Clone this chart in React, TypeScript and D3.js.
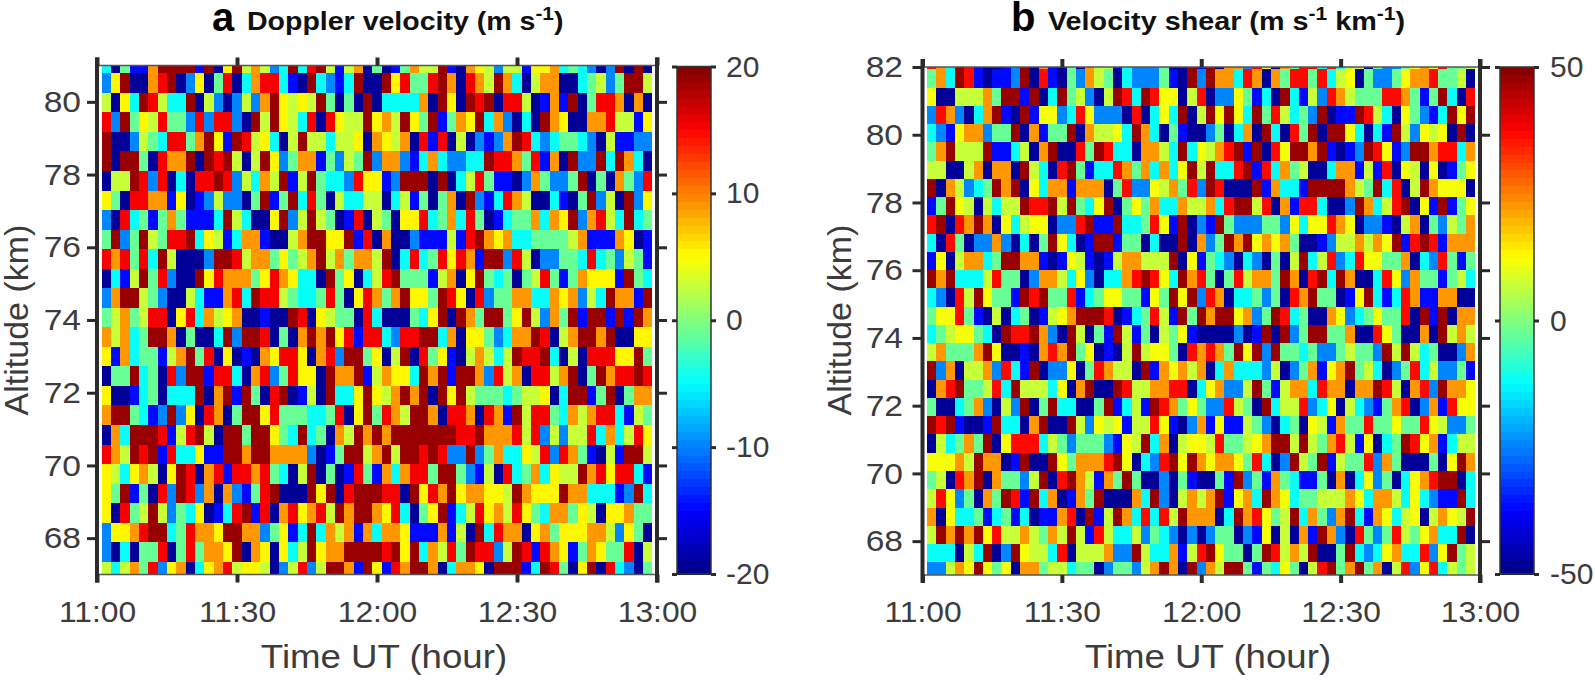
import React, { useEffect, useRef } from 'react';
import * as d3 from 'd3';

const width = 1595;
const height = 680;

// colour classes, 0 = navy ... 9 = maroon. top row first, one digit per 2 min
const velocityClassValues = [-19, -15, -10, -5, -1, 3, 5, 9, 15, 19];
const shearClassValues = [-47, -37, -25, -12, -2, 7, 12, 22, 37, 47];

const velocityRows = [
  '30411799991906957523938951570401475591076525516673432029090',
  '26900789026048037883109321390096844897087597305770034524995',
  '50639853390520252796565940409033337096098908850171904887070',
  '82946584428288209596538086559675964914769372030976007785516',
  '90025438847961985630595535560765708180502127983234432051122',
  '90994087790989505962477142549277213732233988748170922939730',
  '05598280308898253759159433286612999090358411027422490407428',
  '64088771601252204914938405335503514047092138750031049250926',
  '20834147411139530069259540180540668347384013447376927853934',
  '49249548893651377100579966918070021115189767334444571117601',
  '87848395000299857746457957477590383486871992850224438342541',
  '03159482009687774687633094603589444157069434045841476661943',
  '27995420053117839885433484068747966498608244773376725397719',
  '45745880683756700100980654408300043690974994695274919919197',
  '75734997040039299804079796818832889937066423779805799790066',
  '61734415794806010768860782994605908461057535988930508886694',
  '04493408299188307824866097791576639791997285708857904978898',
  '60013403339079194089015093369657979096954443455603991490477',
  '79943129260870499684443348069487599708870871958843757883154',
  '07399981589509949964393407597979999999889777858252558373586',
  '87598918336119979977772014995795998982292473365828741051995',
  '65367506980781887843059040184173788499421508347365597868831',
  '64914082982707214890009690899988096879677665976669773331293',
  '60845952436013891807867859799768304691358675864377465066744',
  '26678993487769977246139375717377611171509387706746667752640',
  '20304480484776907606359677999989693758498825981876147644805',
  '53574826703678566502582599719618799703776099913984069083204',
];

const shearRows = [
  '87398100129071040755132224009190772860748838355042246768445',
  '47398101129081042754032224109297738707488483560422467784450',
  '60055574991903945205983986605802264130931528754448874149308',
  '28720379109166238622208036390596963948534290119853064213969',
  '32167724490714490755639730410024037093084909963031952656090',
  '47955591135079008498330775393657891908699791012986129978837',
  '55005707709530894133874737369593389183745003771518065060146',
  '90752349790637717770482265748298000917331999975493805976660',
  '14965053559889594369046473375573899580718830029735890619146',
  '89087970635660228911933486190219422244263668760221057042547',
  '30840227203049630199144030090724979676740012557576918981777',
  '16057734997710165101577555906143203204059358238664470328414',
  '97933358440277536203378986397840485774970893970038627441453',
  '32085964419894481346644164969287033424087944016931387117700',
  '46684105034015679998013485194979967249834007623464480919077',
  '34566430988972095041951405461000020190924994470086400709575',
  '57444796001078794601059566408787496929443422454429595340027',
  '92705572831902260487550917675703733325024716794530248352241',
  '07894458395553607900985577880367225941577387707798507829776',
  '40034720529049330049135198746422854093558236053214780271866',
  '98910019330790095265615586102716115420340651744844644865224',
  '05347490688835424442165937056658445679959547851603498671355',
  '66675977019009647778960328969767764830295491544827400040697',
  '45087907442590897517494002041004192417431140703624036789903',
  '58624074981937017490007392057579167397634455576377536321193',
  '70633413413011780915973838597770397864593742793176356057659',
  '59797968557547595185335243202024402160507197208424854673390',
  '33305390296553805557229533715896440498575900493236733826945',
  '22576964607745534402442579709275994143640589479470582683545',
];

const xTickMinutes = [0, 30, 60, 90, 120];
const xTickLabels = ['11:00', '11:30', '12:00', '12:30', '13:00'];
const velocityAltTicks = [68, 70, 72, 74, 76, 78, 80];
const shearAltTicks = [68, 70, 72, 74, 76, 78, 80, 82];
const velocityBarTicks = [-20, -10, 0, 10, 20];
const shearBarTicks = [-50, 0, 50];

const ink = '#3c3c3c';
const fontFamily = '"Liberation Sans", Arial, sans-serif';
const jet = d3
  .scaleLinear<string>()
  .domain([0, 0.125, 0.375, 0.625, 0.875, 1])
  .range(['#000080', '#0000ff', '#00ffff', '#ffff00', '#ff0000', '#800000']);

type PanelCfg = {
  id: string;
  rows: string[];
  classValues: number[];
  limit: number;
  altDomain: [number, number];
  altRange: [number, number];
  timeRange: [number, number];
  altTicks: number[];
  barTicks: number[];
  barX: number;
  barRange: [number, number];
  barLabelX: number;
  firstEdge: number;
  rowStep: number;
  tickLabelX: number;
  yLabelX: number;
  xLabelX: number;
};

const panels: PanelCfg[] = [
  {
    id: 'a',
    rows: velocityRows,
    classValues: velocityClassValues,
    limit: 20,
    altDomain: [67, 81],
    altRange: [574.5, 65.5],
    timeRange: [97, 657],
    altTicks: velocityAltTicks,
    barTicks: velocityBarTicks,
    barX: 677,
    barRange: [574, 66.5],
    barLabelX: 726,
    firstEdge: 67.35,
    rowStep: 0.5374,
    tickLabelX: 81,
    yLabelX: 28,
    xLabelX: 384,
  },
  {
    id: 'b',
    rows: shearRows,
    classValues: shearClassValues,
    limit: 50,
    altDomain: [67, 82],
    altRange: [575, 67],
    timeRange: [922.5, 1480],
    altTicks: shearAltTicks,
    barTicks: shearBarTicks,
    barX: 1500,
    barRange: [574, 67],
    barLabelX: 1550,
    firstEdge: 67.375,
    rowStep: 0.5391,
    tickLabelX: 903,
    yLabelX: 851,
    xLabelX: 1208,
  },
];

const plainNumber = (d: d3.NumberValue) => String(+d);

function styleAxis(g: d3.Selection<SVGGElement, unknown, null, undefined>, w: number) {
  g.select('.domain').remove();
  g.selectAll('line').attr('stroke', '#2b2b2b').attr('stroke-width', w);
  g.selectAll('text').attr('fill', ink).attr('font-size', 30);
}

// the reference text is a little wider than Liberation Sans at the same height
function stretch(sel: d3.Selection<any, any, any, any>, k: number) {
  sel.each(function (this: SVGTextElement) {
    const w = this.getComputedTextLength();
    d3.select(this).attr('textLength', w * k).attr('lengthAdjust', 'spacingAndGlyphs');
  });
}

function drawPanel(svg: d3.Selection<SVGSVGElement, unknown, null, undefined>, p: PanelCfg) {
  const x = d3.scaleLinear().domain([0, 120]).range(p.timeRange);
  const y = d3.scaleLinear().domain(p.altDomain).range(p.altRange);
  const [left, right] = p.timeRange;
  const top = p.altRange[1];
  const bottom = p.altRange[0];
  const g = svg.append('g').attr('font-family', fontFamily);

  svg
    .append('clipPath')
    .attr('id', `clip-${p.id}`)
    .append('rect')
    .attr('x', left)
    .attr('y', top)
    .attr('width', right - left)
    .attr('height', bottom - top);

  // cells: columns are 2 min wide, centred on the even minutes
  const cells = p.rows.flatMap((row, r) =>
    row.split('').map((c, i) => ({
      minute: (i + 1) * 2,
      rowFromBottom: p.rows.length - 1 - r,
      value: p.classValues[+c],
    })),
  );
  const color = (v: number) => {
    const t = (v + p.limit) / (2 * p.limit);
    return jet((Math.min(63, Math.floor(t * 64)) + 0.5) / 64);
  };
  g.append('g')
    .attr('clip-path', `url(#clip-${p.id})`)
    .attr('shape-rendering', 'crispEdges')
    .selectAll('rect')
    .data(cells)
    .enter()
    .append('rect')
    .attr('x', d => x(d.minute - 1))
    .attr('width', d => x(d.minute + 1) - x(d.minute - 1))
    .attr('y', d => y(p.firstEdge + d.rowFromBottom * p.rowStep))
    .attr('height', d => y(p.firstEdge + (d.rowFromBottom - 1) * p.rowStep) - y(p.firstEdge + d.rowFromBottom * p.rowStep))
    .attr('fill', d => color(d.value));

  // frame
  [top, bottom].forEach(v => {
    g.append('line')
      .attr('x1', left)
      .attr('x2', right)
      .attr('y1', v)
      .attr('y2', v)
      .attr('stroke', '#555')
      .attr('stroke-width', 1.5);
  });
  [left, right].forEach(v => {
    g.append('line')
      .attr('x1', v)
      .attr('x2', v)
      .attr('y1', top - 8)
      .attr('y2', bottom + 8)
      .attr('stroke', '#2b2b2b')
      .attr('stroke-width', 4);
  });

  // axes
  const xLabel = (d: d3.NumberValue) => xTickLabels[xTickMinutes.indexOf(+d)];
  const bottomAxis = g.append('g').attr('transform', `translate(0,${bottom})`);
  bottomAxis.call(d3.axisBottom(x).tickValues(xTickMinutes).tickFormat(xLabel).tickSize(8).tickPadding(18));
  styleAxis(bottomAxis, 4);
  stretch(bottomAxis.selectAll('text'), 1.06);
  const topAxis = g.append('g').attr('transform', `translate(0,${top})`);
  topAxis.call(d3.axisTop(x).tickValues(xTickMinutes).tickFormat(() => '').tickSize(8));
  styleAxis(topAxis, 4);
  const leftAxis = g.append('g').attr('transform', `translate(${left},0)`);
  leftAxis.call(d3.axisLeft(y).tickValues(p.altTicks).tickFormat(plainNumber).tickSize(10).tickPadding(6));
  styleAxis(leftAxis, 3);
  leftAxis.selectAll('text').attr('x', p.tickLabelX - left);
  stretch(leftAxis.selectAll('text'), 1.12);
  const rightAxis = g.append('g').attr('transform', `translate(${right},0)`);
  rightAxis.call(d3.axisRight(y).tickValues(p.altTicks).tickFormat(() => '').tickSize(10));
  styleAxis(rightAxis, 3);

  const xl = g
    .append('text')
    .attr('x', p.xLabelX)
    .attr('y', 668)
    .attr('text-anchor', 'middle')
    .attr('font-size', 33)
    .attr('fill', ink)
    .text('Time UT (hour)');
  stretch(xl, 1.11);
  g.append('text')
    .attr('transform', `translate(${p.yLabelX},320) rotate(-90)`)
    .attr('text-anchor', 'middle')
    .attr('font-size', 34)
    .attr('fill', ink)
    .text('Altitude (km)');

  // colour bar
  const barW = 34;
  const barY = d3.scaleLinear().domain([-p.limit, p.limit]).range(p.barRange);
  const levels = d3.range(64);
  g.append('g')
    .attr('shape-rendering', 'crispEdges')
    .selectAll('rect')
    .data(levels)
    .enter()
    .append('rect')
    .attr('x', p.barX)
    .attr('width', barW)
    .attr('y', d => barY(-p.limit + ((d + 1) * 2 * p.limit) / 64))
    .attr('height', (p.barRange[0] - p.barRange[1]) / 64 + 0.5)
    .attr('fill', d => jet((d + 0.5) / 64));
  g.append('rect')
    .attr('x', p.barX)
    .attr('y', p.barRange[1])
    .attr('width', barW)
    .attr('height', p.barRange[0] - p.barRange[1])
    .attr('fill', 'none')
    .attr('stroke', '#333')
    .attr('stroke-width', 1.5);
  const barLeft = g.append('g').attr('transform', `translate(${p.barX},0)`);
  barLeft.call(d3.axisLeft(barY).tickValues(p.barTicks).tickFormat(() => '').tickSize(5));
  styleAxis(barLeft, 3);
  const barRight = g.append('g').attr('transform', `translate(${p.barX + barW},0)`);
  barRight.call(d3.axisRight(barY).tickValues(p.barTicks).tickFormat(plainNumber).tickSize(5));
  styleAxis(barRight, 3);
  barRight.selectAll('text').attr('x', p.barLabelX - p.barX - barW);
}

function drawTitle(
  svg: d3.Selection<SVGSVGElement, unknown, null, undefined>,
  letter: string,
  letterX: number,
  textX: number,
  squeeze: number,
  parts: [string, boolean][],
) {
  const g = svg.append('g').attr('font-family', fontFamily).attr('font-weight', 'bold');
  g.append('text').attr('x', letterX).attr('y', 31).attr('font-size', 40).attr('fill', '#000').text(letter);
  const t = g
    .append('text')
    .attr('transform', `translate(${textX},30) scale(${squeeze},1)`)
    .attr('font-size', 26)
    .attr('fill', '#111');
  parts.forEach(([s, sup], i) => {
    const prevSup = i > 0 && parts[i - 1][1];
    t.append('tspan')
      .attr('dy', sup ? -10 : prevSup ? 10 : 0)
      .attr('font-size', sup ? 19 : 26)
      .text(s);
  });
}

const App: React.FC = () => {
  const ref = useRef<SVGSVGElement>(null);

  useEffect(() => {
    if (!ref.current) return;
    const svg = d3.select<SVGSVGElement, unknown>(ref.current);
    svg.selectAll('*').remove();
    panels.forEach(p => drawPanel(svg, p));
    drawTitle(svg, 'a', 212, 247, 1.097, [
      ['Doppler velocity (m s', false],
      ['-1', true],
      [')', false],
    ]);
    drawTitle(svg, 'b', 1011, 1048, 1.106, [
      ['Velocity shear (m s', false],
      ['-1', true],
      [' km', false],
      ['-1', true],
      [')', false],
    ]);
  }, []);

  return (
    <svg
      ref={ref}
      width={width}
      height={height}
      style={{ position: 'absolute', top: 0, left: 0, background: '#fff' }}
    />
  );
};

export default App;
